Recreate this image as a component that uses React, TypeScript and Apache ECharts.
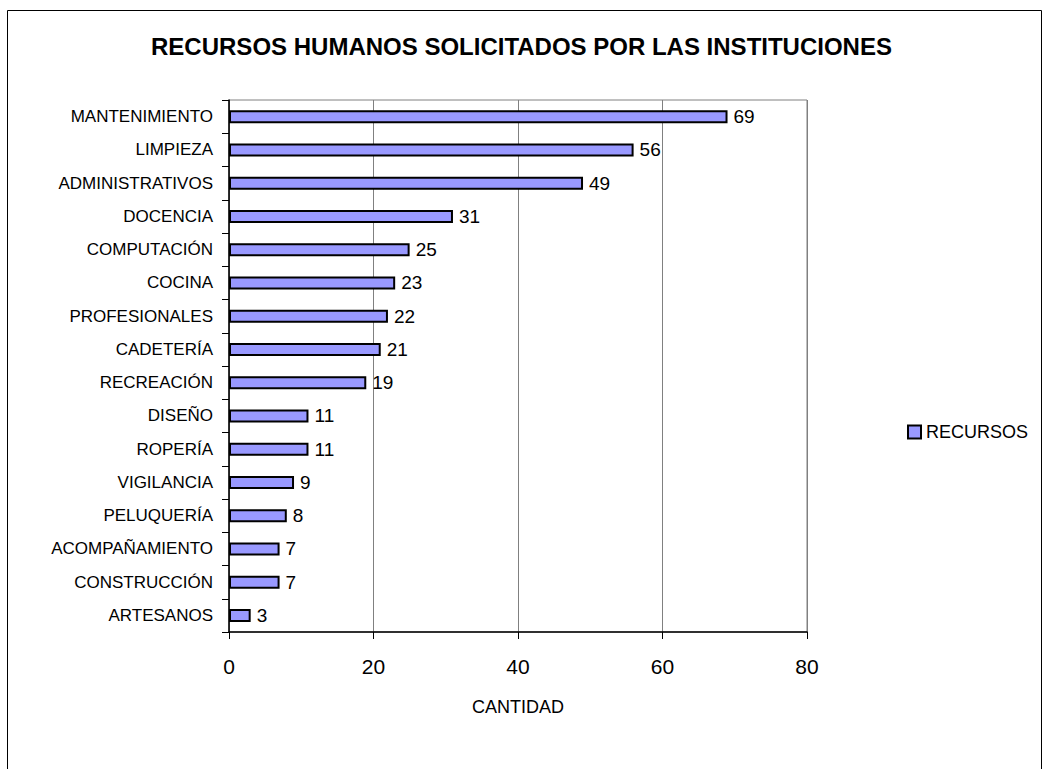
import React, { useEffect, useRef } from "react";
import * as echarts from "echarts";

const categories = [
  "MANTENIMIENTO",
  "LIMPIEZA",
  "ADMINISTRATIVOS",
  "DOCENCIA",
  "COMPUTACIÓN",
  "COCINA",
  "PROFESIONALES",
  "CADETERÍA",
  "RECREACIÓN",
  "DISEÑO",
  "ROPERÍA",
  "VIGILANCIA",
  "PELUQUERÍA",
  "ACOMPAÑAMIENTO",
  "CONSTRUCCIÓN",
  "ARTESANOS",
];
const recursos = [69, 56, 49, 31, 25, 23, 22, 21, 19, 11, 11, 9, 8, 7, 7, 3];
const seriesName = "RECURSOS";
const titleText = "RECURSOS HUMANOS SOLICITADOS POR LAS INSTITUCIONES";
const xAxisName = "CANTIDAD";

const FONT = "'Liberation Sans', Arial, sans-serif";

export default function App() {
  const ref = useRef<HTMLDivElement>(null);
  useEffect(() => {
    if (!ref.current) return;
    const chart = echarts.init(ref.current, undefined, { renderer: "svg" });
    chart.setOption({
      animation: false,
      backgroundColor: "#fff",
      textStyle: { fontFamily: FONT },
      title: {
        text: titleText,
        left: "center",
        top: 34,
        padding: 0,
        textStyle: { fontFamily: FONT, fontSize: 24, fontWeight: "bold", color: "#000" },
      },
      graphic: [
        {
          type: "rect",
          shape: { x: 7.5, y: 10.5, width: 1034, height: 800 },
          style: { fill: "none", stroke: "#000", lineWidth: 1 },
          silent: true,
        },
      ],
      legend: {
        data: [seriesName],
        left: 902,
        top: 418,
        icon: "rect",
        itemWidth: 13,
        itemHeight: 13,
        itemGap: 6,
        textStyle: { fontFamily: FONT, fontSize: 18, color: "#000" },
      },
      grid: {
        left: 229,
        right: 236,
        top: 100,
        bottom: 137,
        show: true,
        borderColor: "#808080",
        borderWidth: 1,
        backgroundColor: "transparent",
      },
      xAxis: {
        type: "value",
        min: 0,
        max: 80,
        interval: 20,
        name: xAxisName,
        nameLocation: "middle",
        nameGap: 66,
        nameTextStyle: { fontFamily: FONT, fontSize: 18, color: "#000" },
        axisLine: { show: true, lineStyle: { color: "#000", width: 1.5 } },
        axisTick: { show: true, length: 7, lineStyle: { color: "#000" } },
        axisLabel: { fontFamily: FONT, fontSize: 21, color: "#000", margin: 24 },
        splitLine: { show: true, lineStyle: { color: "#808080", width: 1 } },
      },
      yAxis: {
        type: "category",
        inverse: true,
        data: categories,
        axisLine: { show: true, lineStyle: { color: "#000", width: 1.5 } },
        axisTick: { show: true, length: 7, lineStyle: { color: "#000" } },
        axisLabel: { fontFamily: FONT, fontSize: 17, color: "#000", margin: 16 },
        splitLine: { show: false },
      },
      series: [
        {
          name: seriesName,
          type: "bar",
          data: recursos,
          barWidth: 13,
          itemStyle: { color: "#9999FF", borderColor: "#000", borderWidth: 2 },
          label: {
            show: true,
            position: "right",
            distance: 6,
            fontFamily: FONT,
            fontSize: 19,
            color: "#000",
          },
        },
      ],
    });
    return () => chart.dispose();
  }, []);
  return (
    <div
      ref={ref}
      style={{ position: "fixed", left: 0, top: 0, width: 1043, height: 769 }}
    />
  );
}
